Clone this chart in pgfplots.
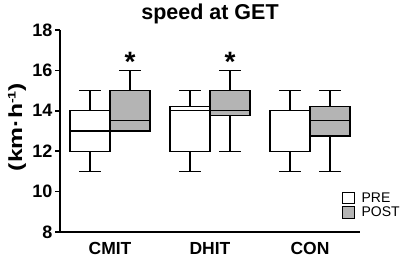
\documentclass[border=0pt]{standalone}
\usepackage{fontspec}
\setmainfont{Liberation Sans}
\newfontfamily\ylabfont{Liberation Sans}[FakeStretch=1.3]
\usepackage{pgfplots}
\pgfplotsset{compat=1.18}
\usepgfplotslibrary{statistics}
\definecolor{boxgray}{RGB}{180,180,180}
\begin{document}
\begin{tikzpicture}
\useasboundingbox (0pt,0pt) rectangle (403pt,-256pt);
\begin{axis}[
  at={(60pt,-232pt)}, anchor=south west,
  scale only axis, width=300pt, height=202pt,
  xmin=0.5, xmax=3.5, ymin=8, ymax=18,
  axis x line*=bottom, axis y line*=left,
  axis line style={-, line width=1.6pt, black},
  ytick={8,10,...,18}, xtick={1,2,3}, xticklabels={CMIT,DHIT,CON},
  ytick style={line width=1.6pt, black}, xtick style={draw=none},
  major tick length=5pt, tick align=outside,
  /pgf/number format/assume math mode=true,
  yticklabel style={font=\fontsize{18}{18}\selectfont\bfseries, xshift=1pt},
  xticklabel style={font=\fontsize{17.5}{18}\selectfont\bfseries, anchor=north, inner sep=0pt,
    text height=12.5pt, text depth=0pt, yshift=-5pt},
  title={speed at GET},
  title style={font=\fontsize{21.5}{24}\selectfont\bfseries, at={(axis description cs:0.5,1)}, anchor=base, yshift=4.5pt},
  ylabel={(km·h\raisebox{6.5pt}{\fontsize{11}{11}\selectfont -1})},
  ylabel style={font=\ylabfont\fontsize{19}{20}\selectfont\bfseries, at={(axis description cs:-0.143,0.52)}, anchor=center},
  boxplot/draw direction=y,
  boxplot/box extend=0.4,
  boxplot/whisker extend=0.22,
  clip=false,
  legend style={draw=none, fill=none, at={(axis description cs:0.94,0.2)}, anchor=north west,
    font=\fontsize{14}{15}\selectfont, row sep=1pt, inner sep=0pt, legend cell align=left,
    nodes={inner sep=1pt}},
  legend image code/.code={\draw[#1, line width=0.9pt] (0pt,-5.5pt) rectangle (12pt,6pt); \path[draw=none, fill=none] (0pt,0pt) -- (18pt,0pt);},
]
\addlegendimage{draw=black, fill=white}
\addlegendentry{PRE}
\addlegendimage{draw=black, fill=boxgray}
\addlegendentry{POST}
% CMIT
\addplot[forget plot, draw=black, line width=1.1pt, fill=white,
  boxplot prepared={draw position=0.8, lower whisker=11, lower quartile=12, median=13, upper quartile=14, upper whisker=15}] coordinates {};
\addplot[forget plot, draw=black, line width=1.1pt, fill=boxgray,
  boxplot prepared={draw position=1.2, lower whisker=13, lower quartile=13, median=13.5, upper quartile=15, upper whisker=16}] coordinates {};
% DHIT
\addplot[forget plot, draw=black, line width=1.1pt, fill=white,
  boxplot prepared={draw position=1.8, lower whisker=11, lower quartile=12, median=14, upper quartile=14.2, upper whisker=15}] coordinates {};
\addplot[forget plot, draw=black, line width=1.1pt, fill=boxgray,
  boxplot prepared={draw position=2.2, lower whisker=12, lower quartile=13.75, median=14, upper quartile=15, upper whisker=16}] coordinates {};
% CON
\addplot[forget plot, draw=black, line width=1.1pt, fill=white,
  boxplot prepared={draw position=2.8, lower whisker=11, lower quartile=12, median=14, upper quartile=14, upper whisker=15}] coordinates {};
\addplot[forget plot, draw=black, line width=1.1pt, fill=boxgray,
  boxplot prepared={draw position=3.2, lower whisker=11, lower quartile=12.75, median=13.5, upper quartile=14.2, upper whisker=15}] coordinates {};
% significance asterisks
\addplot[forget plot, draw=none, mark=none,
  nodes near coords={\fontsize{28}{28}\selectfont\bfseries *},
  every node near coord/.append style={anchor=center, inner sep=0pt}]
  coordinates {(1.2,16.4) (2.2,16.4)};
\end{axis}
\end{tikzpicture}
\end{document}
